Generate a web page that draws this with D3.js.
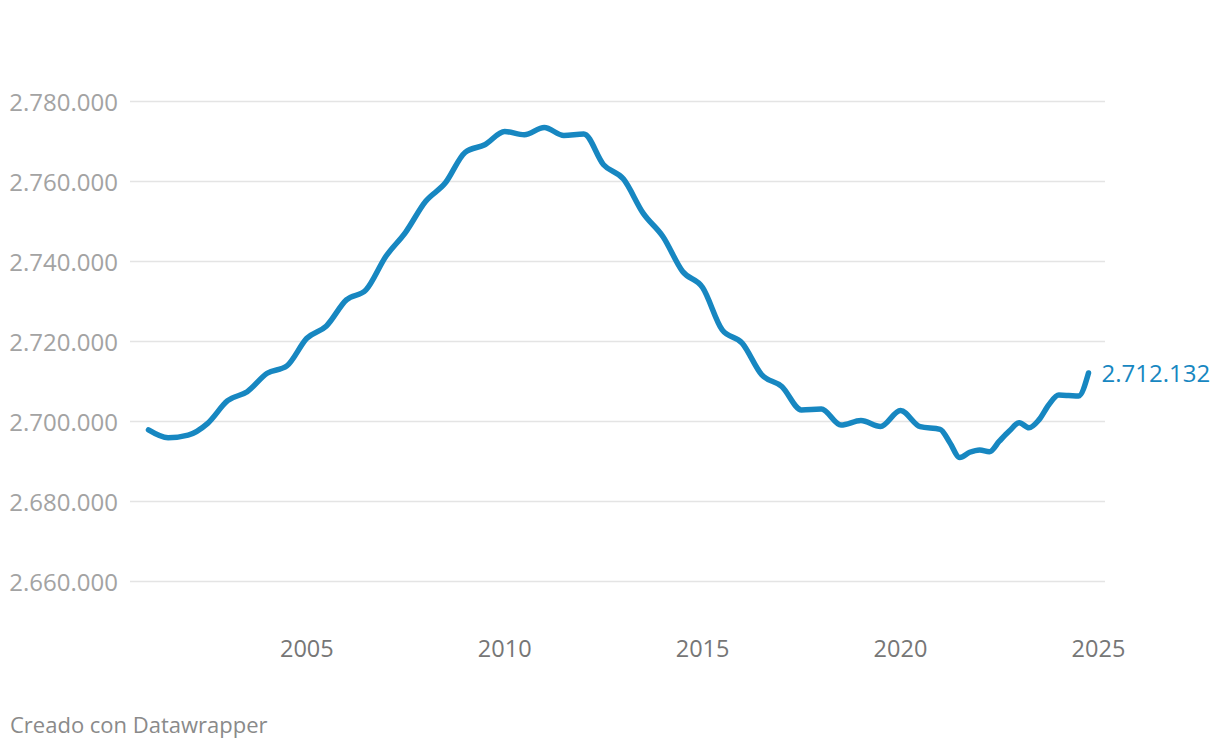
<!DOCTYPE html>
<html>
<head>
<meta charset="utf-8">
<script src="https://cdn.jsdelivr.net/npm/d3@7"></script>
<style>
  html, body { margin: 0; padding: 0; background: #fff; }
  svg { display: block; font-family: "Open Sans", "Noto Sans", sans-serif; }
</style>
</head>
<body>
<svg id="chart" width="1220" height="748"></svg>
<script>
// ---- data ----
const dates = [
  "2001-01-01","2001-07-01","2002-01-01","2002-07-01","2003-01-01","2003-07-01",
  "2004-01-01","2004-07-01","2005-01-01","2005-07-01","2006-01-01","2006-07-01",
  "2007-01-01","2007-07-01","2008-01-01","2008-07-01","2009-01-01","2009-07-01",
  "2010-01-01","2010-07-01","2011-01-01","2011-07-01","2012-01-01","2012-07-01",
  "2013-01-01","2013-07-01","2014-01-01","2014-07-01","2015-01-01","2015-07-01",
  "2016-01-01","2016-07-01","2017-01-01","2017-07-01","2018-01-01","2018-07-01",
  "2019-01-01","2019-07-01","2020-01-01","2020-07-01",
  "2021-01-01","2021-04-01","2021-07-01","2021-10-01",
  "2022-01-01","2022-04-01","2022-07-01","2022-10-01",
  "2023-01-01","2023-04-01","2023-07-01","2023-10-01",
  "2024-01-01","2024-04-01","2024-07-01","2024-10-01"
];
const population = [
  2697900, 2695950, 2696600, 2699550, 2705200, 2707450,
  2712050, 2713900, 2720800, 2723900, 2730400, 2732900,
  2741300, 2747300, 2755000, 2759600, 2767300, 2769200,
  2772500, 2771700, 2773500, 2771500, 2771900, 2764200,
  2760600, 2752100, 2746200, 2737500, 2733500, 2722900,
  2719600, 2711650, 2708750, 2702900, 2703100, 2699100,
  2700250, 2698750, 2702750, 2698700,
  2698050, 2694700, 2691000, 2692300,
  2692900, 2692450, 2695075, 2697600,
  2699700, 2698450, 2700400, 2704200,
  2706600, 2706500, 2706350, 2712132
];
const yTicks = [2660000, 2680000, 2700000, 2720000, 2740000, 2760000, 2780000];
const xTickYears = [2005, 2010, 2015, 2020, 2025];
const endLabel = "2.712.132";
const footer = "Creado con Datawrapper";

// ---- setup ----
const svg = d3.select("#chart");
const locale = d3.formatLocale({ decimal: ",", thousands: ".", grouping: [3], currency: ["", " €"] });
const fmt = locale.format(",d");

const parse = d3.utcParse("%Y-%m-%d");
const data = dates.map((d, i) => ({ date: parse(d), value: population[i] }));

const x = d3.scaleUtc()
  .domain(d3.extent(data, d => d.date))
  .range([148.5, 1088.5]);
const y = d3.scaleLinear()
  .domain([2660000, 2780000])
  .range([581.5, 101.5]);

// gridlines + y labels
const gy = svg.append("g").attr("class", "y-axis");
gy.selectAll("line").data(yTicks).join("line")
  .attr("x1", 130).attr("x2", 1105)
  .attr("y1", d => y(d)).attr("y2", d => y(d))
  .attr("stroke", "#e4e4e4").attr("stroke-width", 1.6);
gy.selectAll("text").data(yTicks).join("text")
  .attr("x", 118).attr("y", d => y(d))
  .attr("text-anchor", "end").attr("dominant-baseline", "central")
  .attr("fill", "#a3a3a3").attr("font-size", 24)
  .text(d => fmt(d));

// x labels
const gx = svg.append("g").attr("class", "x-axis");
gx.selectAll("text").data(xTickYears).join("text")
  .attr("x", d => x(new Date(Date.UTC(d, 0, 1))))
  .attr("y", 648)
  .attr("text-anchor", "middle").attr("dominant-baseline", "central")
  .attr("fill", "#767676").attr("font-size", 23.5)
  .text(d => d);

// line
const line = d3.line()
  .x(d => x(d.date))
  .y(d => y(d.value))
  .curve(d3.curveMonotoneX);
svg.append("path")
  .datum(data)
  .attr("d", line)
  .attr("fill", "none")
  .attr("stroke", "#1787c1")
  .attr("stroke-width", 5.5)
  .attr("stroke-linecap", "round")
  .attr("stroke-linejoin", "round");

// end label
const last = data[data.length - 1];
svg.append("text")
  .attr("x", x(last.date) + 13)
  .attr("y", y(last.value))
  .attr("dominant-baseline", "central")
  .attr("fill", "#1787c1").attr("font-size", 24)
  .text(endLabel);

// footer
svg.append("text")
  .attr("x", 10).attr("y", 724)
  .attr("dominant-baseline", "central")
  .attr("fill", "#8a8a8a").attr("font-size", 22)
  .text(footer);
</script>
</body>
</html>
